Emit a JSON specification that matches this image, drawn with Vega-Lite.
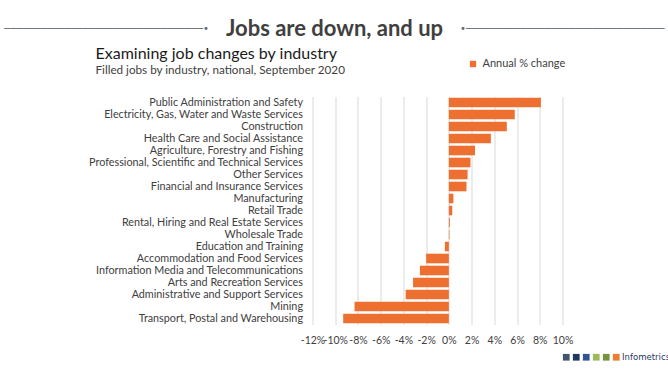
{
  "$schema": "https://vega.github.io/schema/vega-lite/v6.json",
  "width": 250,
  "height": 228,
  "autosize": {"type": "none"},
  "padding": {"left": 312.5, "top": 96.5, "right": 105.5, "bottom": 48.5},
  "background": "white",
  "config": {"view": {"stroke": null}},
  "title": {
    "text": "Jobs are down, and up",
    "subtitle": "─────────────────────────────────•\u00a0\u00a0\u00a0\u00a0\u00a0\u00a0\u00a0\u00a0\u00a0\u00a0\u00a0\u00a0\u00a0\u00a0\u00a0\u00a0\u00a0\u00a0\u00a0\u00a0\u00a0\u00a0\u00a0\u00a0\u00a0\u00a0\u00a0\u00a0\u00a0\u00a0\u00a0\u00a0\u00a0\u00a0\u00a0\u00a0\u00a0\u00a0\u00a0\u00a0\u00a0\u00a0\u00a0\u00a0\u00a0\u00a0\u00a0\u00a0\u00a0\u00a0\u00a0\u00a0\u00a0\u00a0\u00a0\u00a0\u00a0\u00a0\u00a0\u00a0\u00a0\u00a0\u00a0\u00a0\u00a0\u00a0\u00a0\u00a0\u00a0\u00a0\u00a0\u00a0\u00a0\u00a0\u00a0\u00a0\u00a0\u00a0\u00a0•─────────────────────────────────",
    "anchor": "middle",
    "frame": "group",
    "dx": -103,
    "font": "Lato",
    "fontSize": 22,
    "fontWeight": "bold",
    "color": "#404040",
    "subtitleFont": "DejaVu Sans",
    "subtitleFontSize": 10,
    "subtitleColor": "#5b6b7c",
    "subtitlePadding": -17
  },
  "layer": [
    {
      "data": {"values": [
        {"industry": "Public Administration and Safety", "change": 8.1, "series": "Annual % change"},
        {"industry": "Electricity, Gas, Water and Waste Services", "change": 5.8, "series": "Annual % change"},
        {"industry": "Construction", "change": 5.1, "series": "Annual % change"},
        {"industry": "Health Care and Social Assistance", "change": 3.7, "series": "Annual % change"},
        {"industry": "Agriculture, Forestry and Fishing", "change": 2.3, "series": "Annual % change"},
        {"industry": "Professional, Scientific and Technical Services", "change": 1.9, "series": "Annual % change"},
        {"industry": "Other Services", "change": 1.65, "series": "Annual % change"},
        {"industry": "Financial and Insurance Services", "change": 1.55, "series": "Annual % change"},
        {"industry": "Manufacturing", "change": 0.4, "series": "Annual % change"},
        {"industry": "Retail Trade", "change": 0.3, "series": "Annual % change"},
        {"industry": "Rental, Hiring and Real Estate Services", "change": 0.08, "series": "Annual % change"},
        {"industry": "Wholesale Trade", "change": 0.05, "series": "Annual % change"},
        {"industry": "Education and Training", "change": -0.35, "series": "Annual % change"},
        {"industry": "Accommodation and Food Services", "change": -2.0, "series": "Annual % change"},
        {"industry": "Information Media and Telecommunications", "change": -2.55, "series": "Annual % change"},
        {"industry": "Arts and Recreation Services", "change": -3.15, "series": "Annual % change"},
        {"industry": "Administrative and Support Services", "change": -3.8, "series": "Annual % change"},
        {"industry": "Mining", "change": -8.3, "series": "Annual % change"},
        {"industry": "Transport, Postal and Warehousing", "change": -9.3, "series": "Annual % change"}
      ]},
      "mark": {"type": "bar"},
      "encoding": {
        "y": {
          "field": "industry", "type": "nominal", "sort": null,
          "scale": {"paddingInner": 0.2, "paddingOuter": 0.1},
          "axis": {
            "title": "Examining job changes by industry",
            "titleAngle": 0, "titleAlign": "left", "titleBaseline": "alphabetic",
            "titleX": -217.5, "titleY": -38.5,
            "titleFont": "Lato", "titleFontSize": 16, "titleFontWeight": "normal", "titleColor": "#1a1a1a",
            "labelFont": "Lato", "labelFontSize": 10.8, "labelColor": "#404040",
            "labelPadding": 10, "labelLimit": 300,
            "domain": false, "ticks": false, "grid": false
          }
        },
        "x": {
          "field": "change", "type": "quantitative",
          "scale": {"domain": [-12, 10], "nice": false, "zero": true},
          "axis": {
            "title": "Filled jobs by industry, national, September 2020",
            "titleAlign": "left", "titleBaseline": "alphabetic", "titleAnchor": null,
            "titleX": -217.5, "titleY": -251.5,
            "titleFont": "Lato", "titleFontSize": 11.7, "titleFontWeight": "normal", "titleColor": "#404040",
            "values": [-12, -10, -8, -6, -4, -2, 0, 2, 4, 6, 8, 10],
            "tickCount": 12,
            "labelExpr": "datum.value + '%'",
            "labelFont": "Lato", "labelFontSize": 10.5, "labelColor": "#404040",
            "labelPadding": 11, "labelFlush": false, "labelOverlap": false,
            "grid": true, "gridColor": "#d9d9d9", "gridWidth": 1,
            "domain": false, "ticks": false
          }
        },
        "color": {
          "field": "series", "type": "nominal",
          "scale": {"domain": ["Annual % change"], "range": ["#ED7031"]},
          "legend": {
            "orient": "none", "legendX": 155, "legendY": -38, "title": null,
            "symbolType": "square", "symbolSize": 40, "symbolStrokeWidth": 0,
            "labelFont": "Lato", "labelFontSize": 11, "labelColor": "#404040", "labelOffset": 4
          }
        }
      }
    },
    {
      "mark": {"type": "rule", "color": "#8c8c8c", "strokeWidth": 1},
      "encoding": {"x": {"datum": 0}}
    },
    {
      "data": {"values": [
        {"brand": "1"}, {"brand": "2"}, {"brand": "3"}, {"brand": "4"}, {"brand": "5"}, {"brand": "6"}
      ]},
      "mark": {"type": "square", "opacity": 0},
      "encoding": {
        "fill": {
          "field": "brand", "type": "nominal",
          "scale": {"domain": ["1", "2", "3", "4", "5", "6"], "range": ["#44546A", "#1F3864", "#2F5597", "#9BBB59", "#77933C", "#ED7D31"]},
          "legend": {
            "orient": "none", "legendX": 249, "legendY": 256, "direction": "horizontal", "title": null,
            "gridAlign": "none",
            "symbolType": "square", "symbolSize": 45, "symbolOpacity": 1, "symbolStrokeWidth": 0,
            "labelExpr": "datum.value == '6' ? 'Infometrics' : ''",
            "labelOffset": -6, "columnPadding": 1,
            "labelFont": "DejaVu Sans Condensed", "labelFontSize": 9.5, "labelColor": "#1F3864",
            "encode": {"labels": {"update": {"dx": {"signal": "datum.value == '6' ? 7 : 0"}}}}
          }
        }
      }
    }
  ]
}
